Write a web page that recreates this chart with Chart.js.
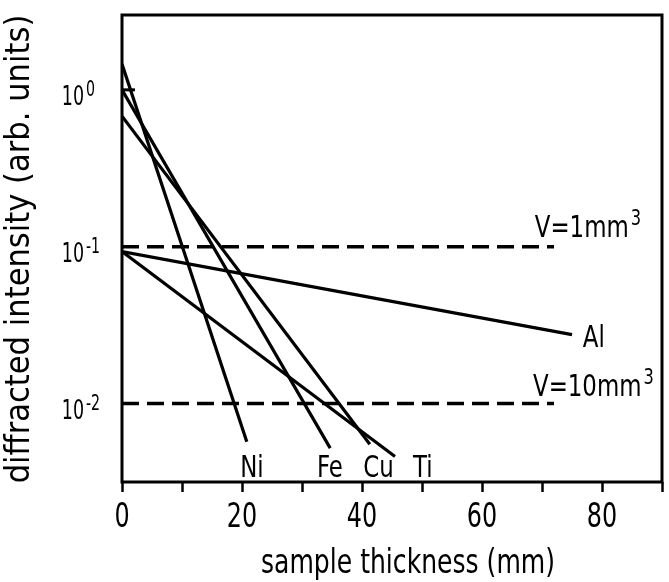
<!DOCTYPE html>
<html>
<head>
<meta charset="utf-8">
<script src="https://cdn.jsdelivr.net/npm/chart.js@4.4.0/dist/chart.umd.min.js"></script>
<style>
  body { margin: 0; background: #fff; }
  #wrap { width: 669px; height: 582px; }
</style>
</head>
<body>
<div id="wrap"><canvas id="chart" width="669" height="582"></canvas></div>
<script>
// values (thickness in mm, intensity in arb. units)
const niX = [0, 20.8];
const niY = [1.46, 0.0057];
const feX = [0, 34.7];
const feY = [1.0, 0.0052];
const cuX = [0, 41.3];
const cuY = [0.68, 0.0055];
const tiX = [0, 45.5];
const tiY = [0.093, 0.0046];
const alX = [0, 75];
const alY = [0.093, 0.0275];

// detection limits for two sample volumes
const volumeX = [0, 72];
const volumeLevels = [0.1, 0.01];
const volumeNames = ['V=1mm', 'V=10mm'];

const xTickLabels = [0, 20, 40, 60, 80];
const yTicks = [1, 0.1, 0.01];
const yExponents = ['0', '-1', '-2'];

const FONT = "'Liberation Sans Narrow', 'DejaVu Sans Condensed', sans-serif";

function pts(xs, ys) {
    return xs.map((x, i) => ({ x, y: ys[i] }));
}

const solid = (label, xs, ys) => ({
    label,
    data: pts(xs, ys),
    borderColor: '#000',
    borderWidth: 3.2,
    pointRadius: 0,
    fill: false,
    tension: 0
});

const dashed = (label, level) => ({
    label,
    data: volumeX.map(x => ({ x, y: level })),
    borderColor: '#000',
    borderWidth: 3.6,
    borderDash: [17, 8],
    pointRadius: 0,
    fill: false
});

// text next to the lines, anchored in data units
const notes = [
    { text: 'Ni', x: 19.7, y: 0.0034 },
    { text: 'Fe', x: 32.5, y: 0.0034 },
    { text: 'Cu', x: 40.2, y: 0.0034 },
    { text: 'Ti', x: 48.5, y: 0.0034 },
    { text: 'Al', x: 76.8, y: 0.0229 },
    { text: volumeNames[0], sup: '3', x: 68.8, y: 0.115 },
    { text: volumeNames[1], sup: '3', x: 68.5, y: 0.0112 }
];

// draws text squeezed sideways, the lettering in the scan is narrow
function narrowText(ctx, text, x, y, size, align, squeeze) {
    ctx.save();
    ctx.font = size + 'px ' + FONT;
    ctx.textAlign = align;
    ctx.translate(x, y);
    ctx.scale(squeeze, 1);
    ctx.fillText(text, 0, 0);
    const w = ctx.measureText(text).width * squeeze;
    ctx.restore();
    return w;
}

const decorations = {
    id: 'decorations',
    beforeDraw(chart) {
        const ctx = chart.ctx;
        ctx.save();
        ctx.fillStyle = '#fff';
        ctx.fillRect(0, 0, chart.width, chart.height);
        ctx.restore();
    },
    afterDraw(chart) {
        const { ctx, chartArea: a, scales: { x, y } } = chart;
        ctx.save();
        ctx.strokeStyle = '#000';
        ctx.fillStyle = '#000';
        ctx.textBaseline = 'alphabetic';
        ctx.lineWidth = 3;
        ctx.strokeRect(a.left, a.top, a.right - a.left, a.bottom - a.top);

        // small inner tick at 10^0
        const p1 = y.getPixelForValue(1);
        ctx.beginPath();
        ctx.moveTo(a.left, p1);
        ctx.lineTo(a.left + 13, p1);
        ctx.stroke();

        // x tick labels
        xTickLabels.forEach(v => {
            narrowText(ctx, String(v), x.getPixelForValue(v), a.bottom + 45, 34, 'center', 0.78);
        });

        // y tick labels as 10 with exponent
        yTicks.forEach((v, i) => {
            const py = y.getPixelForValue(v);
            narrowText(ctx, '10', 84, py + 15, 27, 'right', 0.72);
            narrowText(ctx, yExponents[i], 86, py + 6, 21, 'left', 0.75);
        });

        // line labels
        notes.forEach(n => {
            const px = x.getPixelForValue(n.x);
            const py = y.getPixelForValue(n.y);
            const w = narrowText(ctx, n.text, px, py, 31, 'left', 0.82);
            if (n.sup) {
                narrowText(ctx, n.sup, px + w + 2, py - 12, 22, 'left', 0.82);
            }
        });

        // axis titles
        narrowText(ctx, 'sample thickness (mm)', 408, 573, 34, 'center', 0.82);

        ctx.translate(20, 249);
        ctx.rotate(-Math.PI / 2);
        ctx.font = '34px ' + FONT;
        ctx.textAlign = 'center';
        ctx.textBaseline = 'middle';
        ctx.fillText('diffracted intensity (arb. units)', 0, 0);
        ctx.restore();
    }
};

new Chart(document.getElementById('chart'), {
    type: 'line',
    data: {
        datasets: [
            solid('Ni', niX, niY),
            solid('Fe', feX, feY),
            solid('Cu', cuX, cuY),
            solid('Ti', tiX, tiY),
            solid('Al', alX, alY),
            dashed(volumeNames[0], volumeLevels[0]),
            dashed(volumeNames[1], volumeLevels[1])
        ]
    },
    options: {
        responsive: false,
        animation: false,
        layout: { padding: { left: 0, top: 15, right: 7, bottom: 0 } },
        plugins: {
            legend: { display: false },
            tooltip: { enabled: false }
        },
        scales: {
            x: {
                type: 'linear',
                min: 0,
                max: 90,
                afterFit: s => { s.height = 100; },
                border: { display: false },
                grid: {
                    display: true,
                    drawOnChartArea: false,
                    drawTicks: true,
                    tickLength: 10,
                    tickWidth: 2.5,
                    tickColor: '#000'
                },
                ticks: {
                    stepSize: 10,
                    display: false
                }
            },
            y: {
                type: 'logarithmic',
                min: 0.00316,
                max: 3.0,
                afterFit: s => { s.width = 122; },
                border: { display: false },
                grid: { display: false },
                ticks: { display: false }
            }
        }
    },
    plugins: [decorations]
});
</script>
</body>
</html>
